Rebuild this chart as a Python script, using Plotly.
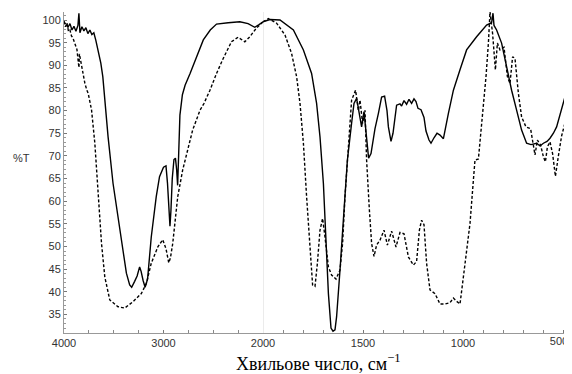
import plotly.graph_objects as go

# ---- data (wavenumber, cm-1 ; transmittance, %T) ----
solid_wn = [4000, 3980, 3960, 3940, 3920, 3900, 3880, 3860, 3850, 3840, 3820, 3800, 3780, 3760, 3740, 3720,
            3700, 3680, 3665, 3650, 3630, 3610, 3590, 3557, 3507, 3457, 3407, 3373, 3340, 3320, 3290, 3265,
            3240, 3225, 3205, 3185, 3160, 3123, 3073, 3040, 3000, 2975, 2960, 2945, 2935, 2925, 2912, 2895,
            2880, 2868, 2858, 2848, 2835, 2810, 2783, 2733, 2667, 2600, 2530, 2467, 2350, 2233, 2150, 2083,
            2040, 2000,
            1965, 1915, 1848, 1798, 1757, 1732, 1715, 1698, 1685, 1673, 1660, 1650, 1640, 1632, 1615, 1598,
            1578, 1557, 1545, 1532, 1518, 1507, 1495, 1482, 1472, 1460, 1440, 1423, 1407, 1392, 1380, 1373,
            1360, 1350, 1340, 1332, 1315, 1307, 1295, 1282, 1270, 1257, 1245, 1235, 1225, 1210, 1195, 1185,
            1170, 1160, 1145, 1130, 1115, 1098, 1073, 1048, 1015, 982, 932, 882, 857, 850, 845, 832, 807, 782,
            757, 732, 707, 682, 660, 632, 615, 598, 580, 565, 548, 532, 515, 498, 473, 455]
solid_t = [99.6, 99.0, 98.4, 99.2, 97.8, 98.6, 97.5, 98.8, 101.5, 97.2, 98.5, 97.6, 98.3, 97.0, 97.8, 96.8,
           97.2, 95.5, 94.0, 93.0, 90.5, 87.5, 82.3, 74.2, 63.9, 56.6, 49.2, 44.1, 41.5, 41.0, 42.3, 43.5,
           45.5, 44.5, 42.5, 41.0, 42.8, 52.1, 61.0, 65.4, 67.5, 67.8, 64.0, 58.0, 54.5, 58.0, 65.0, 69.2,
           69.5, 67.0, 63.5, 70.0, 79.0, 83.5, 85.6, 88.2, 91.9, 95.6, 97.8, 99.1, 99.4, 99.6, 99.2, 98.4,
           99.0, 99.6,
           100.1, 100.0, 97.8, 93.4, 88.2, 81.6, 74.2, 63.9, 50.7, 39.6, 32.0, 31.3, 31.6, 34.5, 44.8, 56.6,
           69.1, 77.2, 81.6, 82.7, 78.6, 76.4, 79.8, 74.2, 69.5, 70.5, 76.0, 79.4, 83.0, 83.2, 80.0, 76.4,
           73.2, 75.0, 79.0, 81.2, 81.5, 81.0, 82.2, 81.4, 82.5, 81.6, 82.6, 82.0, 80.5, 80.2, 78.5, 75.5,
           73.5, 72.8, 74.0, 75.0, 74.6, 73.8, 79.4, 84.5, 89.0, 93.4, 96.3, 98.9, 99.4, 101.5, 98.8, 97.8,
           94.9, 89.7, 84.5, 80.1, 75.7, 72.8, 72.5, 72.8, 72.2, 72.8, 73.2, 73.9, 75.0, 76.4, 79.0, 81.6,
           85.3, 88.6]

dashed_wn = [4000, 3985, 3970, 3955, 3940, 3925, 3910, 3890, 3870, 3855, 3850, 3845, 3830, 3807, 3790, 3770,
             3757, 3740, 3723, 3690, 3657, 3623, 3590, 3540, 3457, 3390, 3307, 3223, 3173, 3123, 3057, 3008,
             2975, 2947, 2930, 2907, 2857, 2807, 2757, 2707, 2633, 2593, 2533, 2467, 2400, 2317, 2250, 2183,
             2133, 2067, 2000,
             1973, 1932, 1890, 1857, 1832, 1815, 1798, 1782, 1765, 1752, 1740, 1728, 1715, 1702, 1690, 1673,
             1657, 1635, 1615, 1602, 1590, 1573, 1557, 1537, 1523, 1515, 1502, 1490, 1482, 1468, 1457, 1445,
             1432, 1415, 1395, 1378, 1357, 1335, 1315, 1295, 1273, 1248, 1232, 1218, 1207, 1195, 1182, 1165,
             1140, 1115, 1090, 1065, 1048, 1032, 1015, 998, 982, 965, 948, 940, 923, 912, 898, 885, 873, 865,
             852, 838, 828, 815, 795, 778, 765, 752, 740, 723, 707, 685, 662, 648, 640, 628, 612, 598, 588,
             578, 565, 552, 538, 523, 507, 490, 482, 473, 465, 455]
dashed_t = [99.8, 98.5, 99.3, 97.5, 97.8, 96.5, 96.0, 94.9, 93.5, 90.5, 89.5, 92.5, 90.5, 87.5, 86.0, 84.5,
            83.8, 82.0, 80.1, 72.8, 61.0, 50.7, 43.3, 38.2, 36.7, 36.4, 37.8, 39.6, 41.8, 46.3, 49.9, 51.5,
            49.5, 46.4, 47.5, 50.7, 61.0, 66.9, 71.3, 75.7, 80.1, 81.6, 84.5, 88.2, 91.5, 95.2, 96.2, 95.2,
            96.3, 98.2, 99.6,
            100.3, 99.3, 96.7, 92.6, 87.5, 81.6, 72.8, 61.0, 49.2, 41.5, 41.2, 46.3, 53.6, 56.2, 52.1, 45.5,
            43.7, 42.8, 44.8, 50.7, 61.0, 72.8, 82.3, 84.5, 80.0, 82.3, 77.2, 80.1, 69.1, 58.0, 50.7, 47.8,
            50.3, 51.4, 53.6, 50.3, 53.4, 49.9, 53.1, 52.8, 47.7, 45.9, 46.7, 53.6, 55.8, 54.8, 46.3, 40.4,
            39.6, 37.3, 37.3, 37.6, 38.6, 37.9, 37.3, 43.3, 49.2, 55.1, 64.7, 69.1, 69.3, 74.2, 80.1, 87.5,
            94.9, 101.8, 97.0, 89.0, 94.9, 93.4, 94.0, 87.5, 86.0, 91.9, 91.5, 83.8, 78.6, 76.4, 76.0, 72.8,
            70.2, 73.5, 72.4, 69.8, 68.7, 72.0, 73.1, 70.5, 65.5, 70.0, 74.4, 77.3, 80.9, 79.0, 76.0, 73.9]

x_ticks_high = [4000, 3000]
x_ticks_low = [2000, 1500, 1000, 500]
x_ticks_low_text = ["2000", "1500", "1000", ""]
x_tick_edge = [500]          # label drawn on a helper axis, nudged left to stay in view
y_ticks = [35, 40, 45, 50, 55, 60, 65, 70, 75, 80, 85, 90, 95, 100]

BREAK = 2000
SPLIT = 199 / 508
RIGHT_END = 455


def part(wn, t, high):
    xs, ys = [], []
    for w, v in zip(wn, t):
        if (high and w >= BREAK) or ((not high) and w <= BREAK):
            xs.append(w)
            ys.append(v)
    return xs, ys


fig = go.Figure()
for wn, t, dash in [(solid_wn, solid_t, "solid"), (dashed_wn, dashed_t, "3px,2px")]:
    for high in (True, False):
        xs, ys = part(wn, t, high)
        fig.add_trace(go.Scatter(
            x=xs, y=ys, mode="lines",
            xaxis="x" if high else "x2", yaxis="y",
            line=dict(color="black", width=1.4, dash=dash),
            showlegend=False, hoverinfo="skip"))
# empty helper trace so the helper axis is drawn
fig.add_trace(go.Scatter(x=[None], y=[None], xaxis="x3", yaxis="y", mode="lines",
                         showlegend=False, hoverinfo="skip"))

tickfont = dict(family="Liberation Sans, Arial", size=11, color="#333")
common_x = dict(showgrid=False, zeroline=False, showline=True, linecolor="#999", linewidth=1,
                ticks="inside", ticklen=3, tickcolor="#777", tickfont=tickfont, anchor="y",
                ticklabeloverflow="allow", automargin=False)

# page body has an 8px margin, so the figure is sized to fill the rest of the window
fig.update_layout(
    width=564, height=366,
    margin=dict(l=56, r=0, t=4, b=41),
    plot_bgcolor="white", paper_bgcolor="white",
    xaxis=dict(domain=[0, SPLIT], range=[4000, BREAK], tickvals=x_ticks_high,
               minor=dict(dtick=250, ticks="inside", ticklen=3, tickcolor="#888"), **common_x),
    xaxis2=dict(domain=[SPLIT, 1], range=[BREAK, RIGHT_END], tickvals=x_ticks_low,
                ticktext=x_ticks_low_text,
                minor=dict(dtick=100, ticks="inside", ticklen=3, tickcolor="#888"), **common_x),
    xaxis3=dict(overlaying="x2", anchor="y", range=[BREAK, RIGHT_END], autorange=False,
                tickvals=x_tick_edge, ticks="", showline=False, showgrid=False, zeroline=False,
                tickfont=tickfont, ticklabelshift=4, ticklabeloverflow="allow", automargin=False),
    yaxis=dict(range=[30.9, 101.77], tickvals=y_ticks, showgrid=False, zeroline=False,
               showline=True, linecolor="#999", linewidth=1, ticks="inside", ticklen=3,
               tickcolor="#777", tickfont=tickfont, automargin=False,
               minor=dict(dtick=1, ticks="inside", ticklen=2, tickcolor="#999")),
    shapes=[dict(type="line", xref="x2", yref="paper", x0=BREAK, x1=BREAK, y0=0, y1=1,
                 line=dict(color="#d8d8d8", width=1), layer="below")],
    annotations=[
        dict(text="%T", xref="paper", yref="paper", x=-0.0827, y=0.545, showarrow=False,
             xanchor="center", yanchor="middle", font=dict(family="Liberation Sans, Arial", size=11, color="#333")),
        dict(text="Хвильове число, см<sup>−1</sup>", xref="paper", yref="paper", x=0.5, y=-0.093,
             showarrow=False, xanchor="center", yanchor="middle",
             font=dict(family="Liberation Serif, Times New Roman", size=18, color="black")),
    ],
)

fig.write_html("out.html")
